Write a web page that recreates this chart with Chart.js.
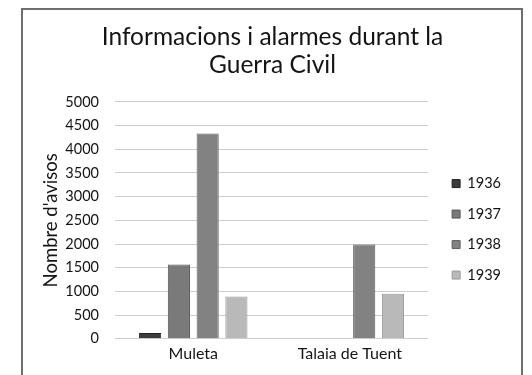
<!DOCTYPE html>
<html>
<head>
<meta charset="utf-8">
<script src="https://cdn.jsdelivr.net/npm/chart.js@4"></script>
<style>
    html, body { margin: 0; padding: 0; background: #fff; overflow: hidden; }
    #wrap { position: relative; width: 532px; height: 375px; }
    #frame {
        position: absolute; left: 21px; top: 8px; width: 498px; height: 420px;
        border: 2px solid #6e6e6e; pointer-events: none;
    }
</style>
</head>
<body>
<div id="wrap">
    <canvas id="avisosChart" width="532" height="375"></canvas>
    <div id="frame"></div>
</div>
<script>
const llocs = ['Muleta', 'Talaia de Tuent'];
const anys = ['1936', '1937', '1938', '1939'];
const avisos1936 = [120, null];
const avisos1937 = [1570, null];
const avisos1938 = [4330, 1990];
const avisos1939 = [890, 950];
const ticksY = [0, 500, 1000, 1500, 2000, 2500, 3000, 3500, 4000, 4500, 5000];

const colors = ['#3c3c3c', '#7a7a7a', '#828282', '#b9b9b9'];
const borders = ['#222222', '#555555', '#5e5e5e', '#9a9a9a'];
const series = [avisos1936, avisos1937, avisos1938, avisos1939];

Chart.defaults.font.family = 'Lato, "Open Sans", sans-serif';
Chart.defaults.color = '#141414';

const ctx = document.getElementById('avisosChart').getContext('2d');
new Chart(ctx, {
    type: 'bar',
    data: {
        labels: llocs,
        datasets: anys.map((any, i) => ({
            label: any,
            data: series[i],
            backgroundColor: colors[i],
            borderColor: borders[i],
            borderWidth: 1,
            categoryPercentage: 0.735,
            barPercentage: 0.77
        }))
    },
    options: {
        responsive: false,
        animation: false,
        layout: { padding: { top: 12, left: 34, right: 21, bottom: 7 } },
        scales: {
            x: {
                grid: { display: false, drawTicks: false },
                border: { display: false },
                ticks: { padding: 5, font: { size: 16 } }
            },
            y: {
                min: 0,
                max: 5000,
                afterBuildTicks: axis => { axis.ticks = ticksY.map(v => ({ value: v })); },
                afterFit: axis => { axis.width = 81; },
                grid: { color: '#cfcfcf', drawTicks: false },
                border: { display: false },
                ticks: { padding: 16, font: { size: 14.5 }, callback: v => String(v) },
                title: {
                    display: true, text: "Nombre d'avisos",
                    font: { size: 18.5 }, padding: { top: 6, bottom: 4 }
                }
            },
            // empty strip between the plot and the legend
            gap: {
                type: 'linear',
                position: 'right',
                grid: { display: false, drawTicks: false },
                border: { display: false },
                ticks: { display: false },
                afterFit: axis => { axis.width = 8; }
            }
        },
        plugins: {
            title: {
                display: true,
                text: ['Informacions i alarmes durant la', 'Guerra Civil'],
                font: { size: 24.5, weight: 'normal', lineHeight: 1.14 },
                padding: { top: 11, bottom: 23 }
            },
            legend: {
                position: 'right',
                fullSize: false,
                title: { display: true, text: '', font: { size: 10 }, padding: 3 },
                labels: { boxWidth: 8, boxHeight: 8, padding: 16, font: { size: 14.5 } }
            },
            tooltip: { enabled: false }
        }
    }
});
</script>
</body>
</html>
